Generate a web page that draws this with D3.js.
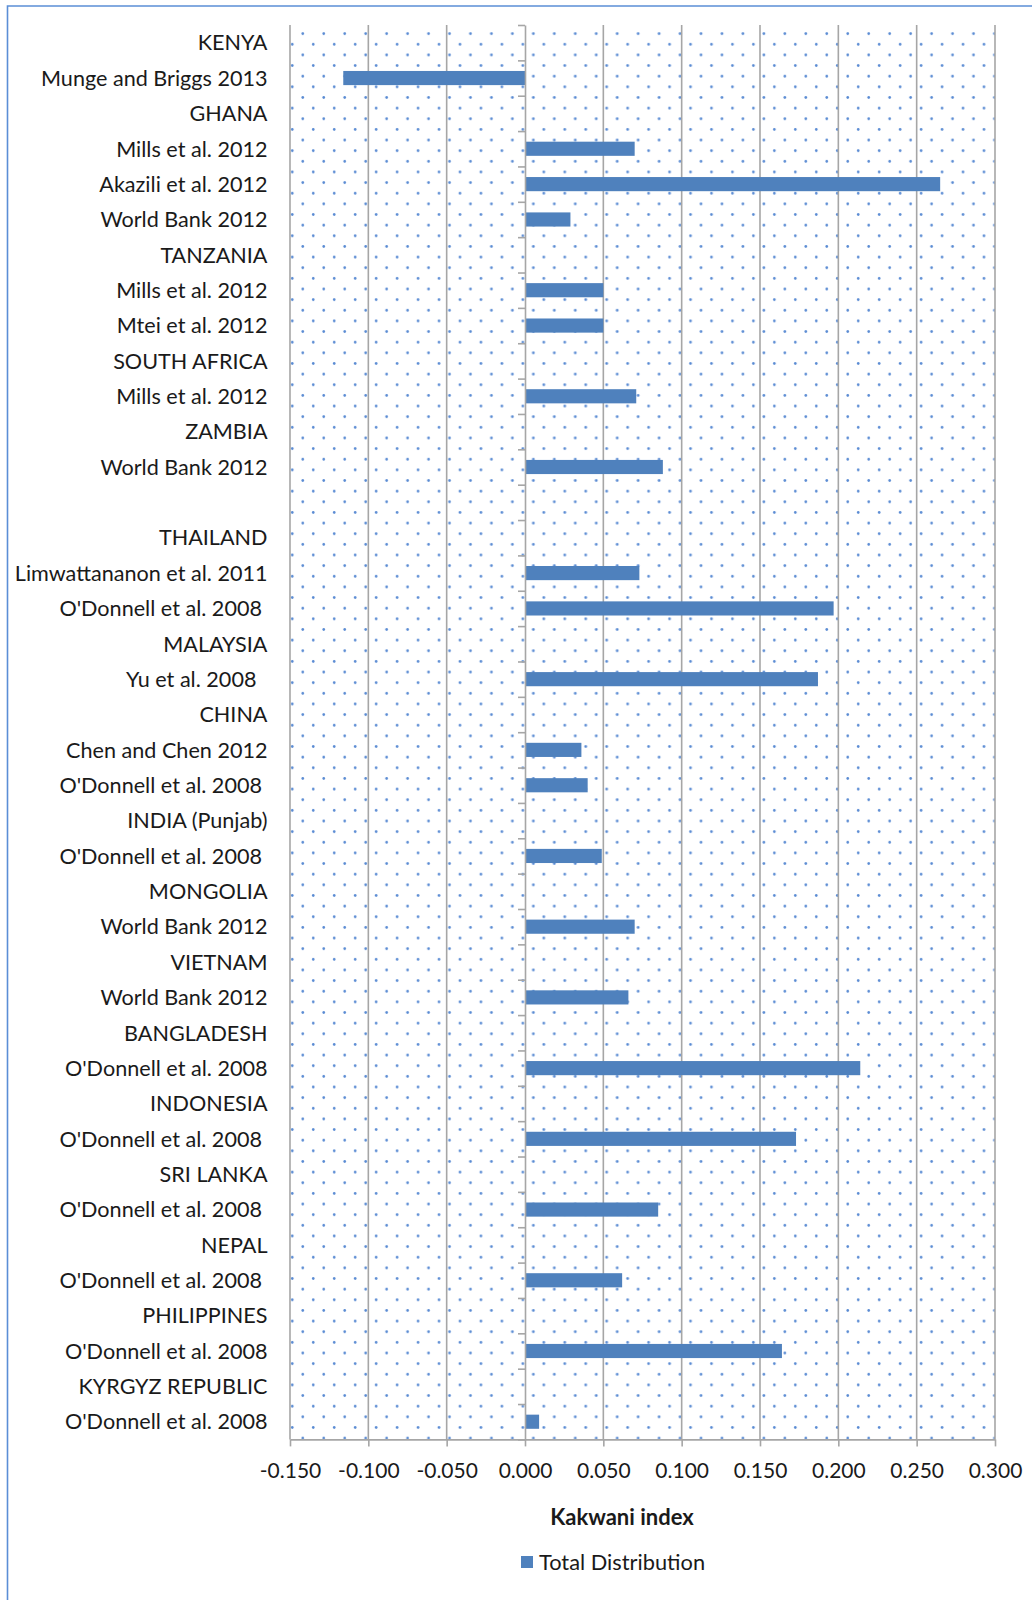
<!DOCTYPE html>
<html>
<head>
<meta charset="utf-8">
<script src="https://cdn.jsdelivr.net/npm/d3@7"></script>
<style>
  body { margin: 0; background: #fff; }
  svg { display: block; }
  text { font-family: Lato, "Open Sans", sans-serif; fill: #1a1a1a; }
</style>
</head>
<body>
<svg id="chart" width="1032" height="1600"></svg>
<script>
// Country headers and studies, top to bottom (trailing spaces kept as in the source labels)
const categories = [
  "KENYA", "Munge and Briggs 2013", "GHANA", "Mills et al. 2012", "Akazili et al. 2012",
  "World Bank 2012", "TANZANIA", "Mills et al. 2012", "Mtei et al. 2012", "SOUTH AFRICA",
  "Mills et al. 2012", "ZAMBIA", "World Bank 2012", "", "THAILAND",
  "Limwattananon et al. 2011", "O'Donnell et al. 2008 ", "MALAYSIA", "Yu et al. 2008  ", "CHINA",
  "Chen and Chen 2012", "O'Donnell et al. 2008 ", "INDIA (Punjab)", "O'Donnell et al. 2008 ", "MONGOLIA",
  "World Bank 2012", "VIETNAM", "World Bank 2012", "BANGLADESH", "O'Donnell et al. 2008",
  "INDONESIA", "O'Donnell et al. 2008 ", "SRI LANKA", "O'Donnell et al. 2008 ", "NEPAL",
  "O'Donnell et al. 2008 ", "PHILIPPINES", "O'Donnell et al. 2008", "KYRGYZ REPUBLIC", "O'Donnell et al. 2008"
];

// Kakwani index, total distribution (null = header row, no bar)
const values = [
  null, -0.116, null, 0.070, 0.265,
  0.029, null, 0.050, 0.050, null,
  0.071, null, 0.088, null, null,
  0.073, 0.197, null, 0.187, null,
  0.036, 0.040, null, 0.049, null,
  0.070, null, 0.066, null, 0.214,
  null, 0.173, null, 0.085, null,
  0.062, null, 0.164, null, 0.009
];

const tickValues = [-0.15, -0.10, -0.05, 0, 0.05, 0.10, 0.15, 0.20, 0.25, 0.30];
const tickLabels = ["-0.150", "-0.100", "-0.050", "0.000", "0.050", "0.100", "0.150", "0.200", "0.250", "0.300"];
const axisTitle = "Kakwani index";
const seriesName = "Total Distribution";

const svg = d3.select("#chart");
const plot = { left: 290, right: 995, top: 25, bottom: 1439.4 };
const barColor = "#4f81bd";
const gridColor = "#a6a6a6";

const x = d3.scaleLinear().domain([-0.15, 0.30]).range([plot.left, plot.right]);
const y = d3.scaleBand()
  .domain(d3.range(categories.length))
  .range([plot.top, plot.bottom])
  .paddingInner(0.6)
  .paddingOuter(0.3);
const rowEdge = d3.scaleLinear().domain([0, categories.length]).range([plot.top, plot.bottom]);

// outer frame
svg.append("path")
  .attr("d", "M7.5,1600 V6 H1032")
  .attr("fill", "none")
  .attr("stroke", "#5b8ed6")
  .attr("stroke-width", 1.6);

// dotted plot-area fill
const defs = svg.append("defs");
const pw = 20.96, ph = 21.28;
const pat = defs.append("pattern")
  .attr("id", "dots")
  .attr("patternUnits", "userSpaceOnUse")
  .attr("x", 292.3 - pw / 4)
  .attr("y", 44.3 - ph / 4)
  .attr("width", pw)
  .attr("height", ph);
pat.append("circle").attr("cx", pw / 4).attr("cy", ph / 4).attr("r", 1.35).attr("fill", "#5a8bd3");
pat.append("circle").attr("cx", pw * 3 / 4).attr("cy", ph * 3 / 4).attr("r", 1.35).attr("fill", "#5a8bd3");

svg.append("rect")
  .attr("x", plot.left)
  .attr("y", plot.top)
  .attr("width", plot.right - plot.left)
  .attr("height", plot.bottom - plot.top)
  .attr("fill", "url(#dots)");

// vertical gridlines
svg.append("g")
  .selectAll("line")
  .data(tickValues.filter(d => d !== 0))
  .join("line")
  .attr("x1", d => x(d)).attr("x2", d => x(d))
  .attr("y1", plot.top).attr("y2", plot.bottom)
  .attr("stroke", gridColor)
  .attr("stroke-width", 1.6);

// bars
svg.append("g")
  .selectAll("rect")
  .data(values.map((v, i) => ({ v, i })).filter(d => d.v !== null))
  .join("rect")
  .attr("x", d => Math.min(x(0), x(d.v)))
  .attr("width", d => Math.abs(x(d.v) - x(0)))
  .attr("y", d => y(d.i))
  .attr("height", y.bandwidth())
  .attr("fill", barColor);

// category axis at zero, ticks on row boundaries
const yAxis = svg.append("g")
  .attr("transform", `translate(${x(0)},0)`)
  .call(d3.axisLeft(rowEdge)
    .tickValues(d3.range(categories.length + 1))
    .tickSize(7)
    .tickSizeOuter(0)
    .tickFormat(""));
yAxis.selectAll("path, line").attr("stroke", gridColor).attr("stroke-width", 1.6);

// value axis
const xAxis = svg.append("g")
  .attr("transform", `translate(0,${plot.bottom})`)
  .call(d3.axisBottom(x)
    .tickValues(tickValues)
    .tickFormat((d, i) => tickLabels[i])
    .tickSize(7)
    .tickSizeOuter(0)
    .tickPadding(17));
xAxis.selectAll("path, line").attr("stroke", gridColor).attr("stroke-width", 1.6);
xAxis.selectAll("text")
  .attr("fill", "#1a1a1a")
  .style("font-family", "Lato, sans-serif")
  .style("font-size", "21px");

// category labels
svg.append("g")
  .selectAll("text")
  .data(categories)
  .join("text")
  .attr("x", 267.5)
  .attr("y", (d, i) => y(i) + y.bandwidth() / 2)
  .attr("dy", "0.36em")
  .attr("text-anchor", "end")
  .style("white-space", "pre")
  .style("font-size", "21.6px")
  .text(d => d);

// axis title
svg.append("text")
  .attr("x", 622)
  .attr("y", 1525)
  .attr("text-anchor", "middle")
  .style("font-size", "22px")
  .style("font-weight", "bold")
  .text(axisTitle);

// legend
const legend = svg.append("g").attr("transform", "translate(521,1556)");
legend.append("rect").attr("width", 12).attr("height", 12).attr("fill", barColor);
legend.append("text")
  .attr("x", 18)
  .attr("y", 6)
  .attr("dy", "0.36em")
  .style("font-size", "21.8px")
  .text(seriesName);
</script>
</body>
</html>
